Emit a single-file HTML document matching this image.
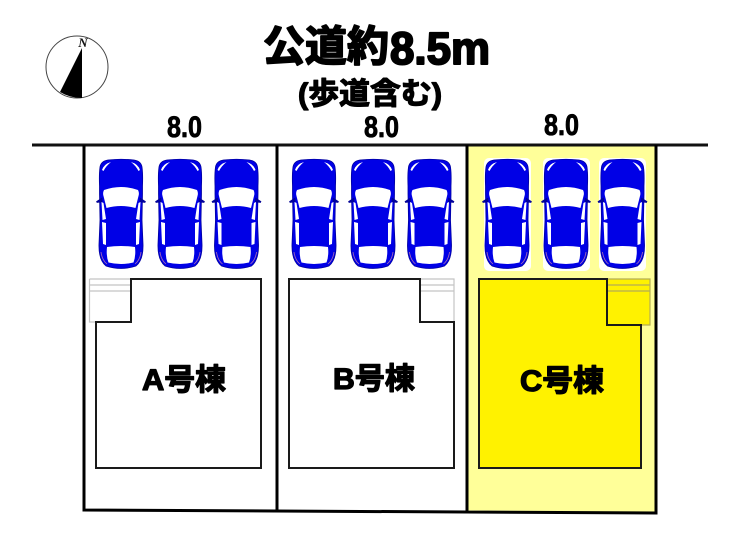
<!DOCTYPE html>
<html><head><meta charset="utf-8"><style>
html,body{margin:0;padding:0;background:#fff}
svg{display:block}
.t{font-family:"Liberation Sans","Noto Sans CJK JP",sans-serif;font-weight:700;fill:#000;stroke:#000;stroke-linejoin:round}
</style></head><body>
<svg width="740" height="537" viewBox="0 0 740 537" xmlns="http://www.w3.org/2000/svg">
<defs>
<g id="car">
<path d="M-13,0 Q0,-1.500 13,0 Q20,1 21,7 Q22,14 21.500,26 L21.500,34 L21,60 L22,84 Q22.500,100 15,106 Q0,111 -15,106 Q-22.500,100 -22,84 L-21,60 L-21.500,34 L-21.500,26 Q-22,14 -21,7 Q-20,1 -13,0Z" fill="#0000e6" stroke="#0000a0" stroke-width=".8"/>
<path d="M-19,38 L-24.500,41.500 L-24,42.500 L-19,42Z M19,38 L24.500,41.500 L24,42.500 L19,42Z" fill="#0000a0" stroke="#000090" stroke-width=".6"/>
<path d="M-17,30 Q0,24 17,30 Q18.500,33 17.500,36 L14.500,48 Q0,44 -14.500,48 L-17.500,36 Q-18.500,33 -17,30Z" fill="#fff"/>
<path d="M-19.500,42 L-17.500,43 L-15,59 L-18.500,60Z M19.500,42 L17.500,43 L15,59 L18.500,60Z" fill="#fff"/>
<path d="M-19,62 L-15,63 L-15,85 L-18,84Z M19,62 L15,63 L15,85 L18,84Z" fill="#fff"/>
<path d="M-14,87 Q0,85 14,87 Q15,96 12.500,102.500 Q0,105.500 -12.500,102.500 Q-15,96 -14,87Z" fill="#fff"/>
<path d="M-19,10 Q-17,4 -10,2 Q-15,6 -17.500,11Z M19,10 Q17,4 10,2 Q15,6 17.500,11Z" fill="#fff"/>
<path d="M-20,92 Q-19,100 -14,104 M20,92 Q19,100 14,104" fill="none" stroke="#b070b0" stroke-width=".8"/>
</g>
<g id="row"><use href="#car" x="0" y="160"/><use href="#car" x="59" y="160"/><use href="#car" x="115.500" y="160"/></g>
</defs>

<!-- lot C fill -->
<path d="M467,146 H656 V512 L467,510.500Z" fill="#ffff99"/>
<rect x="484" y="158" width="47" height="113" rx="5" fill="#fff"/>
<rect x="543" y="158" width="47" height="113" rx="5" fill="#fff"/>
<rect x="599" y="158" width="47" height="113" rx="5" fill="#fff"/>

<!-- road and lot lines -->
<path d="M32,145 H708" stroke="#111" stroke-width="3" fill="none"/>
<path d="M84,145 V510 L656,513 V145 M277,145 V511 M467,145 V512" stroke="#000" stroke-width="3" fill="none"/>

<!-- cars -->
<use href="#row" x="121"/>
<use href="#row" x="314"/>
<use href="#row" x="507"/>

<!-- stoops -->
<g fill="none" stroke="#c4c4c4" stroke-width="1.200">
<path d="M89.500,279 H131 M89.500,285 H131 M89.500,291 H131 M89.500,279 V322 H96" />
<path d="M420,279 H454 V322 M420,285 H454 M420,291 H454"/>
</g>
<rect x="607" y="279" width="43" height="46" fill="#fff200"/>
<g fill="none" stroke="#b5ad55" stroke-width="1.200">
<path d="M607,279 H650 V325 H641 M607,285 H650 M607,291 H650"/>
</g>

<!-- houses -->
<path d="M131,279 H261 V468 H96 V322 H131Z" fill="#fff" stroke="#1a1a1a" stroke-width="2"/>
<path d="M289,279 H420 V322 H454 V468 H289Z" fill="#fff" stroke="#1a1a1a" stroke-width="2"/>
<path d="M479,279 H607 V325 H641 V468 H479Z" fill="#fff200" stroke="#1a1a1a" stroke-width="2"/>

<!-- compass -->
<circle cx="77" cy="67" r="31" fill="#fff" stroke="#444" stroke-width="1"/>
<path d="M82,48 L82,98 Q70,98 60,92Z" fill="#000"/>
<text x="83" y="47" font-family="Liberation Serif,serif" font-style="italic" font-weight="700" font-size="13" text-anchor="middle" fill="#111">N</text>

<!-- labels -->
<text class="t" x="263" y="61" font-size="42" stroke-width="1.800" textLength="126" lengthAdjust="spacingAndGlyphs">公道約</text>
<text class="t" x="390" y="64" font-size="45" stroke-width="2" textLength="100" lengthAdjust="spacingAndGlyphs">8.5m</text>
<text class="t" x="298" y="104" font-size="30" stroke-width="1.200" textLength="144" lengthAdjust="spacingAndGlyphs">(歩道含む)</text>
<text class="t" x="167" y="137" font-size="30" stroke-width=".8" textLength="35" lengthAdjust="spacingAndGlyphs">8.0</text>
<text class="t" x="364" y="137" font-size="30" stroke-width=".8" textLength="35" lengthAdjust="spacingAndGlyphs">8.0</text>
<text class="t" x="544" y="135" font-size="30" stroke-width=".8" textLength="35" lengthAdjust="spacingAndGlyphs">8.0</text>
<text class="t" x="142" y="390" font-size="30" stroke-width="1.300" textLength="84" lengthAdjust="spacingAndGlyphs">A号棟</text>
<text class="t" x="333" y="389" font-size="30" stroke-width="1.300" textLength="82" lengthAdjust="spacingAndGlyphs">B号棟</text>
<text class="t" x="520" y="391" font-size="30" stroke-width="1.300" textLength="84" lengthAdjust="spacingAndGlyphs">C号棟</text>
</svg>
</body></html>
